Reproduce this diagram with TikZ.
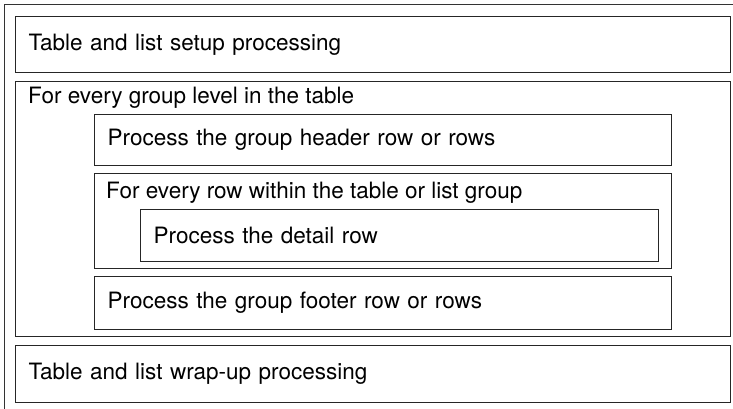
\documentclass[tikz,border=0pt]{standalone}
\usepackage{fontspec}
\setmainfont{TeX Gyre Heros}
\usetikzlibrary{positioning}

\begin{document}
\begin{tikzpicture}[x=1pt, y=-1pt, every node/.style={font=\fontsize{22.5}{27}\selectfont},
  leaf/.style={rectangle, draw=black!85, line width=1.2pt, anchor=north west, inner xsep=13pt, inner ysep=0pt, align=left},
  container/.style={rectangle, draw=black!85, line width=1.2pt, anchor=north west, inner sep=0pt},
  caption/.style={inner sep=0pt, anchor=north west}]
	  \useasboundingbox (0,0) rectangle (733,409);
	  % outer frame, cut off at the right and at the bottom
	  \draw[black!80, line width=0.9pt] (4,420) |- (745,4);

	  \node[leaf, minimum width=715pt, minimum height=56pt, text width=689pt] (setup) at (15,16) {Table and list setup processing};
	  \node[container, minimum width=715pt, minimum height=255pt] (group) at (15,81) {};
	  \node[caption] (grouptext) [below right = 6pt and 13pt of group.north west] {For every group level in the table};
	  \node[leaf, minimum width=577pt, minimum height=51pt, text width=551pt] (header) at (94,114) {Process the group header row or rows};
	  \node[container, minimum width=577pt, minimum height=95pt] (row) at (94,173) {};
	  \node[caption] (rowtext) [below right = 9pt and 12pt of row.north west] {For every row within the table or list group};
	  \node[leaf, minimum width=518pt, minimum height=52pt, text width=492pt] (detail) at (140,209) {Process the detail row};
	  \node[leaf, minimum width=577pt, minimum height=53pt, text width=551pt] (footer) at (94,276) {Process the group footer row or rows};
	  \node[leaf, minimum width=715pt, minimum height=57pt, text width=689pt] (wrapup) at (15,345) {Table and list wrap-up processing};
\end{tikzpicture}
\end{document}
